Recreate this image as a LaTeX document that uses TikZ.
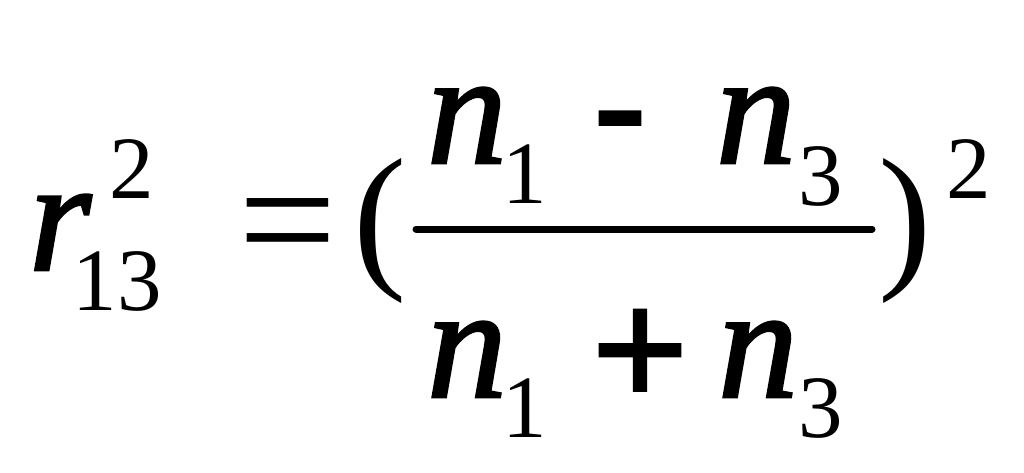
\documentclass[tikz,border=0pt]{standalone}
\usepackage{fontspec}
\setmainfont{Liberation Serif}
\newfontface\varit{Liberation Serif Italic}[FakeBold=1.6]
\newfontface\symsans{Liberation Sans}[FakeBold=1.5]
\begin{document}
\begin{tikzpicture}[x=1pt,y=-1pt,
  every node/.style={inner sep=0pt, outer sep=0pt, anchor=base},
  var/.style={font=\fontsize{160}{160}\varit},
  idx/.style={font=\fontsize{89}{89}\selectfont},
  rel/.style={font=\fontsize{175}{175}\selectfont},
  delim/.style={font=\fontsize{160}{160}\selectfont},
  op/.style={font=\fontsize{165}{165}\symsans},
  bar/.style={line width=7pt, line cap=round}]
\useasboundingbox (0,0) rectangle (1024,472);
% left-hand side
\node[var] (r) at (60,270) {r};
\node[idx] (sub13) at (117,310) {13};
\node[idx] (supA) at (132,198) {2};
\node[rel] (eq) at (288,278) {=};
\node[delim] (lp) at (380,269) {(};
% numerator
\node[var] (n1t) at (467,163) {n};
\node[idx] (i1t) at (525,203) {1};
\node[op] (minus) at (620,162) {-};
\node[var] (n3t) at (756,163) {n};
\node[idx] (i3t) at (821,205) {3};
% fraction bar
\coordinate (fl) at (416,229);
\coordinate (fr) at (872,229);
\draw[bar] (fl) -- (fr);
% denominator
\node[var] (n1b) at (467,397) {n};
\node[idx] (i1b) at (525,437) {1};
\node[op] (plus) at (640,405) {+};
\node[var] (n3b) at (758,397) {n};
\node[idx] (i3b) at (821,437) {3};
% right
\node[delim] (rp) at (905,269) {)};
\node[idx] (supB) at (969,198) {2};
\end{tikzpicture}
\end{document}
